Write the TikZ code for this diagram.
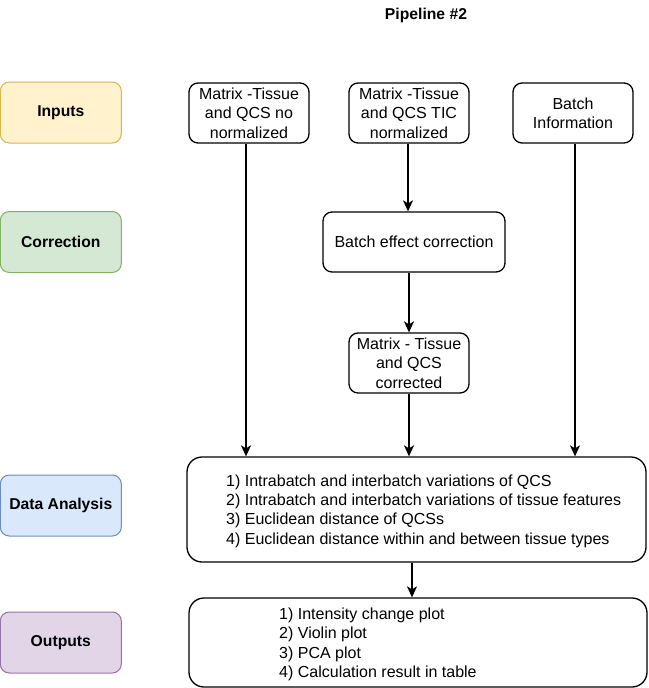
\documentclass[tikz,border=0pt]{standalone}
\usepackage{fontspec}
\setmainfont{Liberation Sans}
\usetikzlibrary{arrows.meta}
\begin{document}
\begin{tikzpicture}[x=1pt,y=-1pt,
  every node/.style={font=\fontsize{16}{19.3}\selectfont, inner sep=0pt, align=center},
  lab/.style={draw, line width=1pt, rounded corners=9pt, minimum width=121pt, minimum height=61pt, font=\fontsize{15.7}{19}\selectfont\bfseries},
  box/.style={draw, line width=1.3pt, rounded corners=9pt, minimum width=120pt, minimum height=60pt},
  bigbox/.style={draw, line width=1.3pt, rounded corners=15pt},
  arr/.style={line width=1.6pt, -{Stealth[length=11pt,width=10pt,inset=3pt]}}
]
\useasboundingbox (0,0) rectangle (648,688);
\definecolor{yfill}{HTML}{FFF2CC}\definecolor{ydraw}{HTML}{D6B656}
\definecolor{gfill}{HTML}{D5E8D4}\definecolor{gdraw}{HTML}{82B366}
\definecolor{bfill}{HTML}{DAE8FC}\definecolor{bdraw}{HTML}{6C8EBF}
\definecolor{pfill}{HTML}{E1D5E7}\definecolor{pdraw}{HTML}{9673A6}

\node[font=\fontsize{15.7}{19}\selectfont\bfseries] (title) at (426,15) {Pipeline \#2};

\node[lab, fill=yfill, draw=ydraw] (inputs) at (60.8,112.5) {Inputs};
\node[lab, fill=gfill, draw=gdraw] (corr) at (60.8,242) {Correction};
\node[lab, fill=bfill, draw=bdraw] (da) at (60.8,505.5) {Data Analysis};
\node[lab, fill=pfill, draw=pdraw] (outs) at (60.8,642.5) {Outputs};

\node[box] (A) at (249,113) {Matrix -Tissue\\and QCS no\\normalized};
\node[box] (B) at (409,113) {Matrix -Tissue\\and QCS TIC\\normalized};
\node[box] (C) at (573,113) {Batch\\Information};
\node[box, minimum width=182pt] (BE) at (414,242) {Batch effect correction};
\node[box] (MC) at (409,363) {Matrix - Tissue\\and QCS\\corrected};

\node[bigbox, minimum width=459pt, minimum height=105pt] (DA) at (416.5,509.5) {};
\node[anchor=west, align=left] (DAt) at (226,511) {1) Intrabatch and interbatch variations of QCS\\2) Intrabatch and interbatch variations of tissue features\\3) Euclidean distance of QCSs\\4) Euclidean distance within and between tissue types};

\node[bigbox, minimum width=458pt, minimum height=89pt] (OUT) at (418,642.5) {};
\node[anchor=west, align=left] (OUTt) at (279,644.5) {1) Intensity change plot\\2) Violin plot\\3) PCA plot\\4) Calculation result in table};

\coordinate (a1) at ([xshift=-3pt]A.south);
\draw[arr] (a1) -- (a1 |- DA.north);
\draw[arr] ([xshift=-1pt]B.south) -- ([xshift=-1pt]B.south |- BE.north);
\draw[arr] (MC.north |- BE.south) -- (MC.north);
\draw[arr] (MC.south) -- (MC.south |- DA.north);
\coordinate (c1) at ([xshift=2pt]C.south);
\draw[arr] (c1) -- (c1 |- DA.north);
\coordinate (d1) at ([xshift=-4.5pt]DA.south);
\draw[arr] (d1) -- (d1 |- OUT.north);
\end{tikzpicture}
\end{document}
